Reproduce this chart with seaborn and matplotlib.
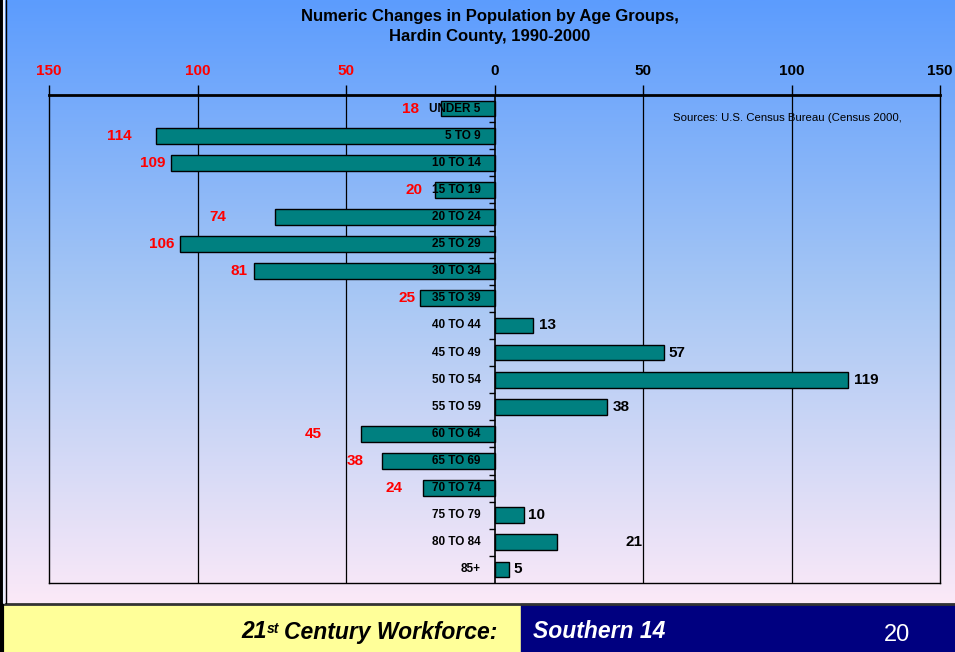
import numpy as np
import matplotlib
matplotlib.use('Agg')
import matplotlib.pyplot as plt
from matplotlib.colors import LinearSegmentedColormap
from matplotlib.patches import Rectangle
import seaborn as sns

# data
age_groups = ['UNDER 5', '5 TO 9', '10 TO 14', '15 TO 19', '20 TO 24', '25 TO 29',
              '30 TO 34', '35 TO 39', '40 TO 44', '45 TO 49', '50 TO 54', '55 TO 59',
              '60 TO 64', '65 TO 69', '70 TO 74', '75 TO 79', '80 TO 84', '85+']
change = [-18, -114, -109, -20, -74, -106, -81, -25, 13, 57, 119, 38,
          -45, -38, -24, 10, 21, 5]
x_ticks = [-150, -100, -50, 0, 50, 100, 150]

# gap (pixels) between the end of each bar and its number, as on the slide
label_gap = [22, 24, 5, 13, 48, 5, 6, 5, 6, 5, 6, 5, 39, 18, 21, 4, 69, 4]

sns.set_style('white')
plt.rcParams['font.family'] = ['Liberation Sans', 'DejaVu Sans']
plt.rcParams['text.color'] = 'black'

fig = plt.figure(figsize=(9.55, 6.52), dpi=100)

# slide background, border and footer
bg = fig.add_axes([0, 0, 1, 1])
grad = LinearSegmentedColormap.from_list('slide', ['#5c9cfe', '#a9c8f4', '#fbe9f8'])
bg.imshow(np.linspace(0, 1, 256).reshape(-1, 1), cmap=grad, aspect='auto',
          extent=(0, 955, 603, 0))
bg.add_patch(Rectangle((0, 604), 521, 48, color='#ffff99'))
bg.add_patch(Rectangle((521, 604), 434, 48, color='#000080'))
bg.plot([0, 955], [603.5, 603.5], color='#333333', lw=2)
bg.plot([1.5, 1.5], [0, 652], color='black', lw=3)
bg.plot([4, 4], [0, 603], color='#e8eefc', lw=1.5)
bg.plot([5.5, 5.5], [0, 603], color='black', lw=1)
bg.set_xlim(0, 955)
bg.set_ylim(652, 0)
bg.axis('off')

t_main = bg.text(497, 632, 'Century Workforce:', ha='right', va='center',
                 fontsize=16.5, fontweight='bold', fontstyle='italic', color='black')
t_st = bg.annotate('st', xy=(0, 1), xycoords=t_main, xytext=(-3, -1),
                   textcoords='offset points', ha='right', va='top',
                   fontsize=10, fontweight='bold', fontstyle='italic')
bg.annotate('21', xy=(0, 0), xycoords=(t_st, t_main), ha='right', va='bottom',
            fontsize=16.5, fontweight='bold', fontstyle='italic')
bg.text(533, 632, 'Southern 14', ha='left', va='center', fontsize=16.5,
        fontweight='bold', fontstyle='italic', color='white')
bg.text(897, 635, '20', ha='center', va='center', fontsize=17, color='white')

# chart
ax = fig.add_axes([49 / 955, 1 - 583 / 652, 891 / 955, 488 / 652])
ax.patch.set_alpha(0)

for v in [-100, -50, 50, 100]:
    ax.axvline(v, color='black', lw=0.9, zorder=1)

sns.barplot(x=change, y=age_groups, orient='h', color='#008080', saturation=1,
            edgecolor='black', linewidth=1, width=0.58, ax=ax, zorder=3)

ax.axvline(0, color='black', lw=1.2, zorder=4)
ax.plot([0] * (len(age_groups) - 1), np.arange(len(age_groups) - 1) + 0.5,
        ls='none', marker=0, ms=4, mew=1, color='black', zorder=4)

ax.set_xlim(-150, 150)
ax.set_ylim(len(age_groups) - 0.5, -0.5)
ax.set_yticks([])
ax.set_xlabel('')
ax.set_ylabel('')

ax.xaxis.tick_top()
ax.set_xticks(x_ticks)
ax.set_xticklabels([str(abs(t)) for t in x_ticks])
ax.tick_params(axis='x', direction='out', length=7.5, width=1, pad=5,
               labelsize=11, color='black')
for lbl, t in zip(ax.get_xticklabels(), x_ticks):
    lbl.set_color('#ff0000' if t < 0 else 'black')
    lbl.set_fontweight('bold')

for side, spine in ax.spines.items():
    spine.set_visible(True)
    spine.set_color('black')
    spine.set_linewidth(2 if side == 'top' else 1)

for i, g in enumerate(age_groups):
    ax.annotate(g, xy=(0, i), xytext=(-10, 0), textcoords='offset points',
                ha='right', va='center', fontsize=8.5, fontweight='bold',
                color='black', zorder=5)

for i, (v, gap) in enumerate(zip(change, label_gap)):
    pos = v > 0
    ax.annotate(str(abs(v)), xy=(v, i), xytext=((gap if pos else -gap) * 0.72, 0),
                textcoords='offset points', ha='left' if pos else 'right',
                va='center', fontsize=11, fontweight='bold',
                color='black' if pos else '#ff0000', zorder=5)

fig.text(490 / 955, 1 - 26.5 / 652,
         'Numeric Changes in Population by Age Groups,\nHardin County, 1990-2000',
         ha='center', va='center', multialignment='center', fontsize=12,
         fontweight='bold', linespacing=1.35)
fig.text(673 / 955, 1 - 118 / 652, 'Sources: U.S. Census Bureau (Census 2000,',
         ha='left', va='center', fontsize=8.2)

fig.savefig('out.png', dpi=100)
